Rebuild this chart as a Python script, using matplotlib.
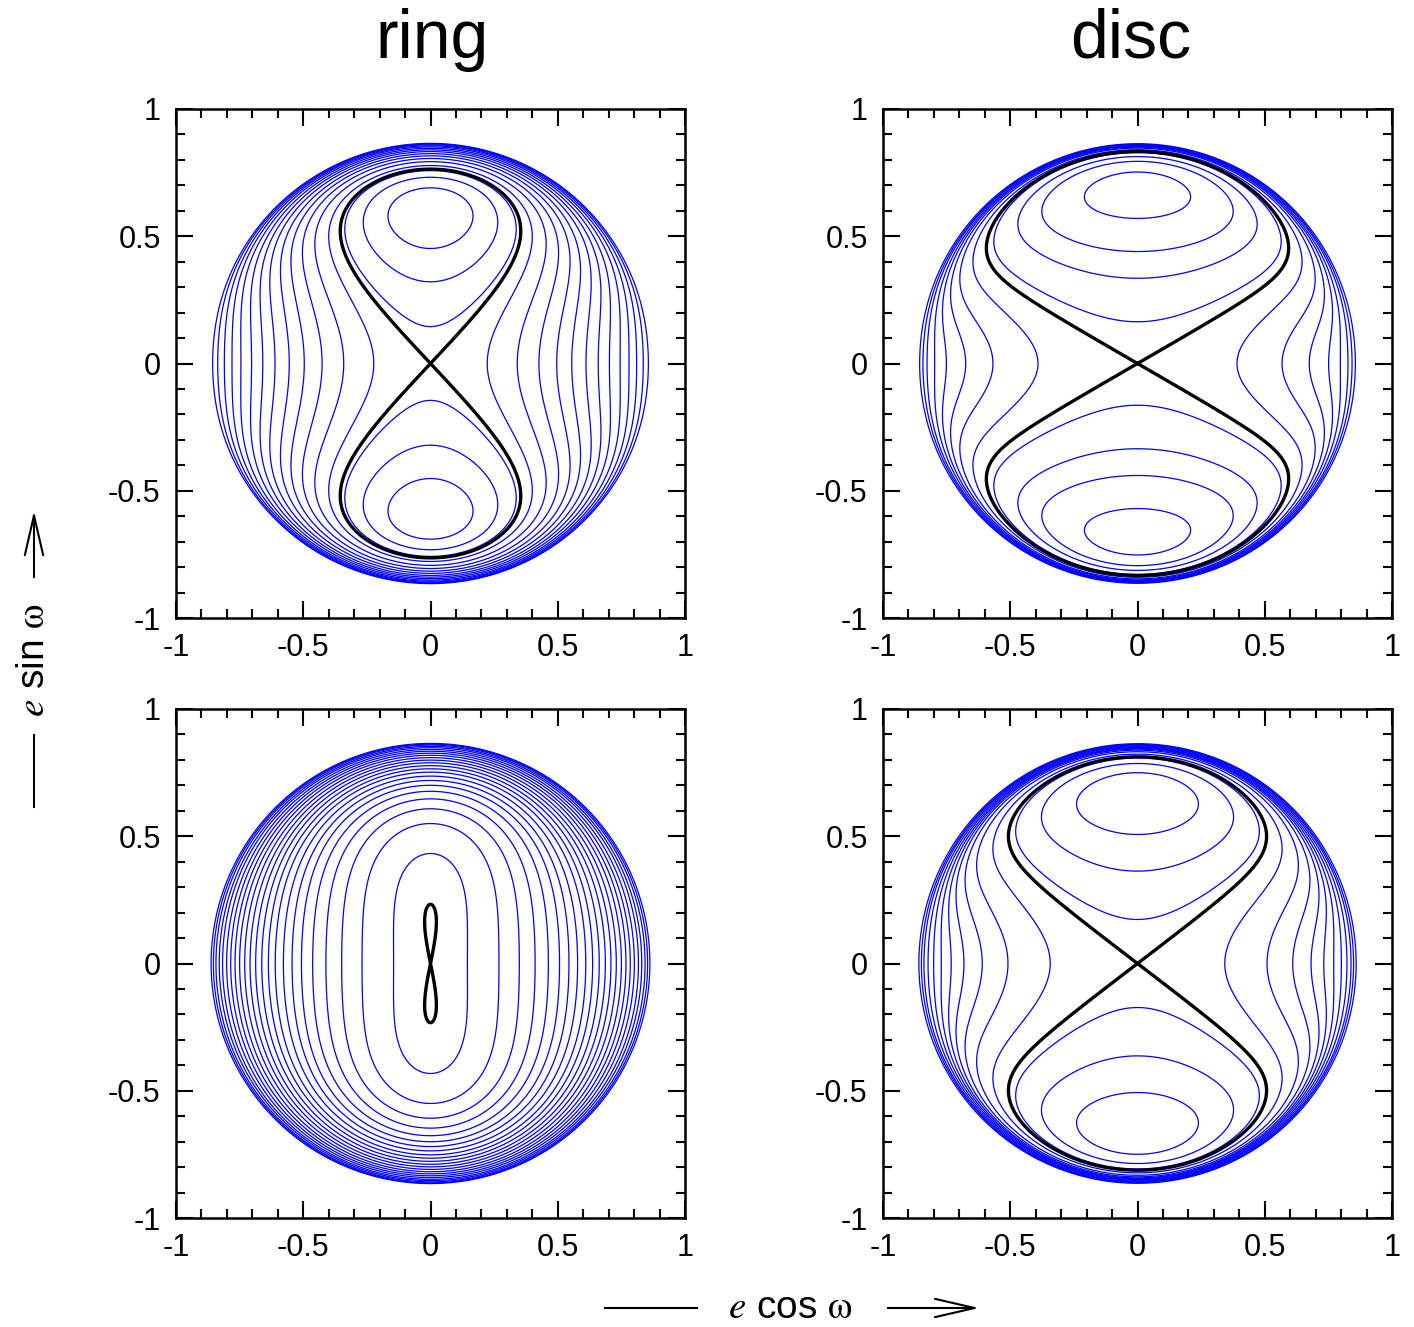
import numpy as np
import matplotlib
matplotlib.use('Agg')
import matplotlib.pyplot as plt
from matplotlib.patches import FancyArrowPatch
from matplotlib.lines import Line2D

plt.rcParams['font.family'] = ['Liberation Sans', 'DejaVu Sans']
plt.rcParams['mathtext.fontset'] = 'stix'

# ---------------- data ----------------
column_titles = ['ring', 'disc']
tick_values = [-1, -0.5, 0, 0.5, 1]
tick_labels = ['-1', '-0.5', '0', '0.5', '1']
jz2 = 0.25  # conserved (1-e^2)cos^2 i  -> boundary e = sqrt(1 - jz2)

# secular-Hamiltonian coefficients per panel (a, b, c, k, m, g)
ring_top_coef = [3.75, -3.0, 0.0, 0.0, 0.0, 15.0]
disc_top_coef = [1.679, -7.279, 0.616, 0.0, 0.0, 15.0]
ring_bottom_coef = [0.0, 0.692, 0.0, 0.802, 2.23, 1.0]
disc_bottom_coef = [0.925, -3.855, 0.897, 0.0, 0.0, 15.0]

# where the blue contours cross the positive e cos w axis
ring_top_outer = [0.223, 0.341, 0.426, 0.496, 0.555, 0.611, 0.659, 0.703,
                  0.745, 0.780, 0.810, 0.836, 0.856]
disc_top_outer = [0.391, 0.568, 0.675, 0.751, 0.797, 0.827, 0.843, 0.856]
ring_bottom_outer = [0.145, 0.269, 0.349, 0.411, 0.463, 0.507, 0.544, 0.578,
                     0.610, 0.637, 0.663, 0.687, 0.709, 0.730, 0.750, 0.768,
                     0.785, 0.801, 0.817, 0.830, 0.843, 0.853, 0.862]
disc_bottom_outer = [0.343, 0.509, 0.610, 0.682, 0.732, 0.771, 0.801, 0.823,
                     0.839, 0.849, 0.859]

# where the libration-island contours cross the positive e sin w axis
ring_top_inner = [0.145, 0.321, 0.452]
disc_top_inner = [0.164, 0.335, 0.440, 0.570]
ring_bottom_inner = []
disc_bottom_inner = [0.173, 0.363, 0.507]

separatrix_level = [0.0]

panels = [
    (ring_top_coef, ring_top_outer, ring_top_inner),
    (disc_top_coef, disc_top_outer, disc_top_inner),
    (ring_bottom_coef, ring_bottom_outer, ring_bottom_inner),
    (disc_bottom_coef, disc_bottom_outer, disc_bottom_inner),
]


def hamiltonian(X, Y, coef):
    a, b, c, k, m, g = coef
    X = np.asarray(X, dtype=float)
    Y = np.asarray(Y, dtype=float)
    x = X ** 2 + Y ** 2
    inside = x <= 1.0 - jz2
    xs = np.where(inside, x, 0.0)
    w = xs / (1.0 - xs)
    H = (a * w + b * xs + c * w ** 2 + k * xs ** 2 + m * xs ** 4
         + g * (1.0 - jz2 / (1.0 - xs)) * (X ** 2 - Y ** 2))
    return np.where(inside, H, np.nan)


# ---------------- figure ----------------
W, Hpx = 1414, 1327
fig = plt.figure(figsize=(W / 100, Hpx / 100), dpi=100)

ax_w = 509 / W
ax_h = 509 / Hpx
lefts = [176 / W, 883 / W]
bottoms = [1 - 618 / Hpx, 1 - 1218 / Hpx]

n = 1741
g1 = np.linspace(-0.87, 0.87, n)
GX, GY = np.meshgrid(g1, g1)

for idx, (coef, outer, inner) in enumerate(panels):
    r, c = divmod(idx, 2)
    ax = fig.add_axes([lefts[c], bottoms[r], ax_w, ax_h])
    Z = hamiltonian(GX, GY, coef)
    lv = [float(hamiltonian(e, 0.0, coef)) for e in outer]
    lv += [float(hamiltonian(0.0, e, coef)) for e in inner]
    lv = sorted(set(lv))
    ax.contour(GX, GY, Z, levels=lv, colors='#0000ff', linewidths=0.9,
               linestyles='solid', negative_linestyles='solid')
    ax.contour(GX, GY, Z, levels=separatrix_level, colors='black',
               linewidths=2.4, linestyles='solid',
               negative_linestyles='solid')

    ax.set_xlim(-1, 1)
    ax.set_ylim(-1, 1)
    ax.set_xticks(tick_values)
    ax.set_yticks(tick_values)
    ax.set_xticklabels(tick_labels)
    ax.set_yticklabels(tick_labels)
    ax.set_xticks(np.arange(-1, 1.001, 0.1), minor=True)
    ax.set_yticks(np.arange(-1, 1.001, 0.1), minor=True)
    ax.tick_params(which='both', direction='in', top=True, right=True,
                   width=1.5, labelsize=22, pad=11)
    ax.tick_params(which='major', length=12.5)
    ax.tick_params(which='minor', length=6.5)
    for sp in ax.spines.values():
        sp.set_linewidth(1.8)

# column titles
fig.text(432 / W, 1 - 58 / Hpx, column_titles[0], ha='center',
         va='baseline', fontsize=49)
fig.text(1131 / W, 1 - 58 / Hpx, column_titles[1], ha='center',
         va='baseline', fontsize=49)

arrow_style = '->,head_length=1.3,head_width=0.3'

# bottom axis label with line and arrow
yb = 1 - 1308 / Hpx
fig.add_artist(Line2D([605 / W, 697 / W], [yb, yb], transform=fig.transFigure,
                      color='black', lw=1.5))
fig.text(790 / W, yb, r'$e$ cos $\mathrm{\omega}$', ha='center',
         va='center', fontsize=28)
fig.add_artist(FancyArrowPatch((885 / W, yb), (982 / W, yb),
                               transform=fig.transFigure,
                               arrowstyle=arrow_style,
                               mutation_scale=22, lw=1.5, color='black'))

# left axis label with line and arrow
xl = 34 / W
fig.add_artist(Line2D([xl, xl], [1 - 807 / Hpx, 1 - 735 / Hpx],
                      transform=fig.transFigure, color='black', lw=1.5))
fig.text(xl, 1 - 660 / Hpx, r'$e$ sin $\mathrm{\omega}$', ha='center',
         va='center', rotation=90, fontsize=28)
fig.add_artist(FancyArrowPatch((xl, 1 - 580 / Hpx), (xl, 1 - 508 / Hpx),
                               transform=fig.transFigure,
                               arrowstyle=arrow_style,
                               mutation_scale=22, lw=1.5, color='black'))

fig.savefig('out.png', dpi=100)
